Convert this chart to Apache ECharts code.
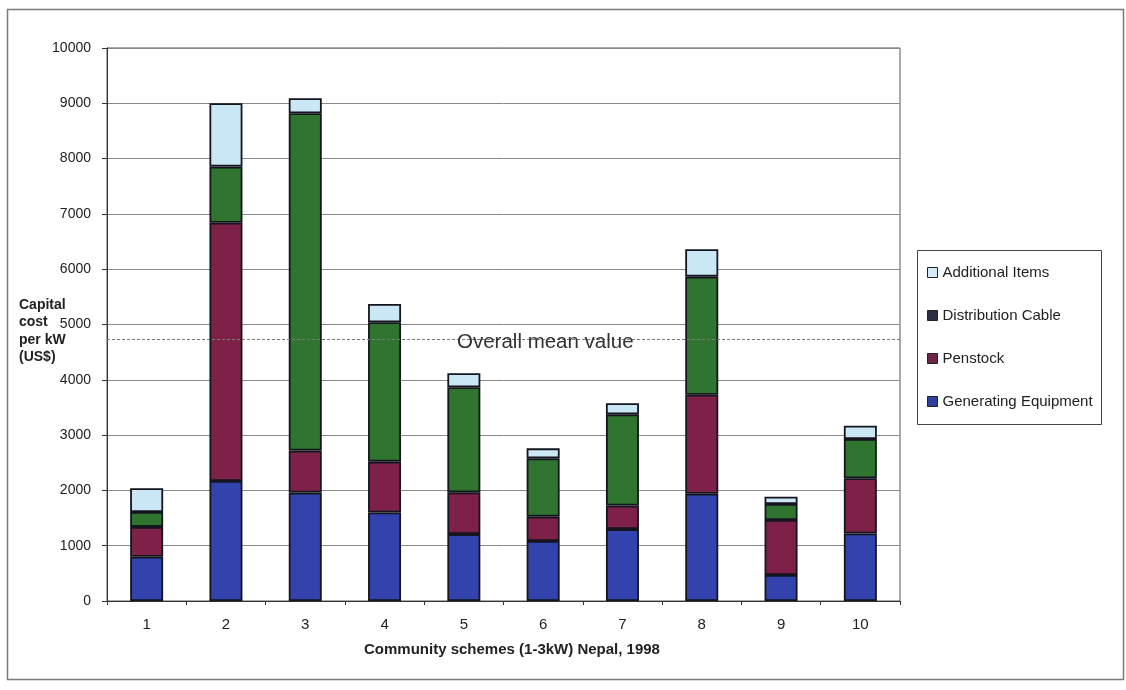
<!DOCTYPE html>
<html>
<head>
<meta charset="utf-8">
<script src="https://cdn.jsdelivr.net/npm/echarts@6/dist/echarts.min.js"></script>
<style>
  html, body { margin: 0; padding: 0; background: #fff; }
  #chart { width: 1126px; height: 690px; }
</style>
</head>
<body>
<div id="chart"></div>
<script>
// Capital cost per kW (US$) of ten community micro-hydro schemes, by cost component
const schemes = ['1', '2', '3', '4', '5', '6', '7', '8', '9', '10'];
const generatingEquipment = [800, 2170, 1960, 1600, 1210, 1085, 1300, 1940, 470, 1220];
const penstock            = [540, 4670, 760, 920, 755, 440, 425, 1790, 995, 1000];
const distributionCable   = [270, 1015, 6100, 2520, 1900, 1055, 1650, 2135, 290, 710];
const additionalItems     = [430, 1145, 270, 330, 255, 180, 200, 495, 130, 240];

const seriesNames = ['Generating Equipment', 'Penstock', 'Distribution Cable', 'Additional Items'];
const yTicks = { min: 0, max: 10000, interval: 1000 };

// overall mean of the scheme totals
const totals = schemes.map((_, i) =>
  generatingEquipment[i] + penstock[i] + distributionCable[i] + additionalItems[i]);
const overallMean = totals.reduce((a, b) => a + b, 0) / totals.length;

const colors = {
  'Generating Equipment': '#3243ae',
  'Penstock': '#7e2148',
  'Distribution Cable': '#2f752f',
  'Additional Items': '#cae7f5'
};
const legendSwatch = {
  'Generating Equipment': '#2f3f9e',
  'Penstock': '#6e2446',
  'Distribution Cable': '#2c2f44',
  'Additional Items': '#d2ebf7'
};

const seriesData = [generatingEquipment, penstock, distributionCable, additionalItems];
const textColor = '#222';

const chart = echarts.init(document.getElementById('chart'), null, { renderer: 'canvas' });

const series = seriesNames.map((name, k) => {
  const s = {
    name: name,
    type: 'bar',
    stack: 'cost',
    barWidth: 33,
    data: seriesData[k],
    itemStyle: { color: colors[name], borderColor: '#15151f', borderWidth: 1.8 },
    emphasis: { disabled: true }
  };
  if (k === seriesNames.length - 1) {
    s.markLine = {
      silent: true,
      symbol: ['none', 'none'],
      label: { show: false },
      lineStyle: { type: [3, 2], color: '#7a7a7a', width: 1 },
      data: [{ yAxis: overallMean }]
    };
  }
  return s;
});

chart.setOption({
  animation: false,
  backgroundColor: '#ffffff',
  grid: {
    left: 107, right: 226, top: 48, bottom: 89,
    show: true, borderColor: '#555', borderWidth: 1, backgroundColor: 'transparent'
  },
  legend: {
    orient: 'vertical',
    left: 927,
    top: 265,
    padding: 0,
    itemWidth: 10,
    itemHeight: 10,
    itemGap: 28,
    icon: 'rect',
    selectedMode: false,
    textStyle: { fontFamily: 'Liberation Sans, Arial, sans-serif', fontSize: 15, color: textColor },
    data: seriesNames.slice().reverse().map(n => ({
      name: n,
      itemStyle: { color: legendSwatch[n], borderColor: '#222', borderWidth: 1 }
    }))
  },
  xAxis: {
    type: 'category',
    data: schemes,
    axisLine: { lineStyle: { color: '#333', width: 1 } },
    axisTick: { show: true, length: 4, lineStyle: { color: '#333' } },
    axisLabel: {
      margin: 16,
      fontFamily: 'Liberation Sans, Arial, sans-serif',
      fontSize: 15,
      color: textColor
    },
    splitLine: { show: false }
  },
  yAxis: {
    type: 'value',
    min: yTicks.min,
    max: yTicks.max,
    interval: yTicks.interval,
    axisLine: { show: true, lineStyle: { color: '#333', width: 1 } },
    axisTick: { show: true, length: 5, lineStyle: { color: '#333' } },
    axisLabel: {
      margin: 16,
      formatter: v => String(v),
      fontFamily: 'Liberation Sans, Arial, sans-serif',
      fontSize: 14,
      color: textColor
    },
    splitLine: { show: true, lineStyle: { color: '#8a8a8a', width: 1 } }
  },
  series: series,
  graphic: [
    {
      type: 'rect', silent: true, z: -1,
      shape: { x: 7.5, y: 9.5, width: 1116, height: 670 },
      style: { fill: 'none', stroke: '#7a7a7a', lineWidth: 1.5 }
    },
    {
      type: 'rect', silent: true,
      shape: { x: 917.5, y: 250.5, width: 184, height: 174 },
      style: { fill: 'none', stroke: '#444', lineWidth: 1 }
    },
    {
      type: 'text', silent: true, z: 10,
      left: 457, top: 332,
      style: {
        text: 'Overall mean value',
        fontFamily: 'Liberation Sans, Arial, sans-serif',
        fontSize: 20.5,
        fill: '#333'
      }
    },
    {
      type: 'text', silent: true,
      left: 19, top: 296,
      style: {
        text: 'Capital\ncost\nper kW\n(US$)',
        fontFamily: 'Liberation Sans, Arial, sans-serif',
        fontSize: 14,
        fontWeight: 'bold',
        lineHeight: 17.5,
        fill: textColor
      }
    },
    {
      type: 'text', silent: true,
      left: 364, top: 642,
      style: {
        text: 'Community schemes (1-3kW) Nepal, 1998',
        fontFamily: 'Liberation Sans, Arial, sans-serif',
        fontSize: 15,
        fontWeight: 'bold',
        fill: textColor
      }
    }
  ]
});
</script>
</body>
</html>
